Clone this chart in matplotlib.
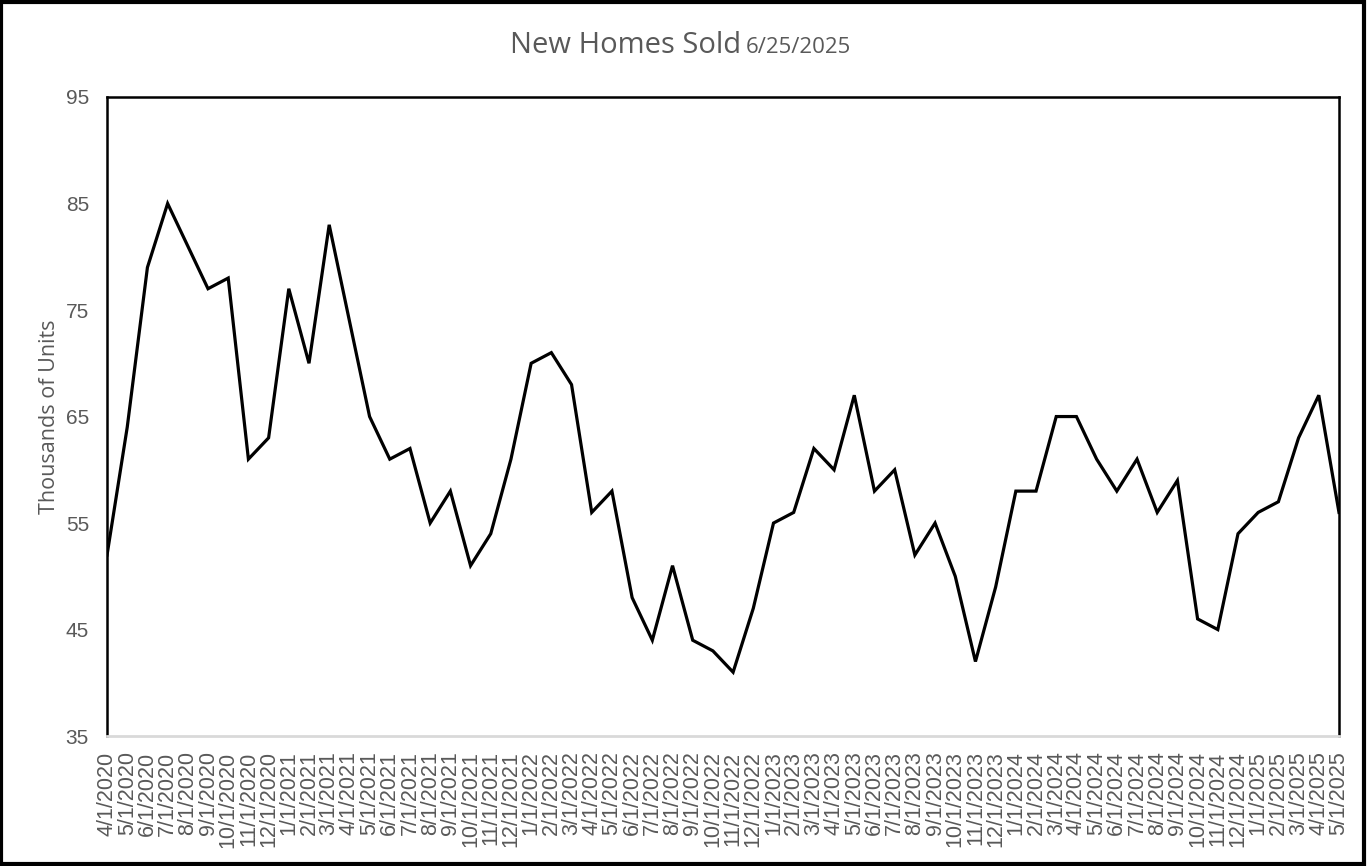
import pandas            as     pd
import matplotlib
matplotlib.use('Agg')
import matplotlib.pyplot as     plt
from matplotlib.patches  import Rectangle

# monthly new homes sold, thousands of units (not seasonally adjusted)
months = pd.date_range('2020-04-01', '2025-05-01', freq='MS')
labels = [f"{d.month}/{d.day}/{d.year}" for d in months]

sold = [52, 64, 79, 85, 81, 77, 78, 61, 63,                 # 2020
        77, 70, 83, 74, 65, 61, 62, 55, 58, 51, 54, 61,     # 2021
        70, 71, 68, 56, 58, 48, 44, 51, 44, 43, 41, 47,     # 2022
        55, 56, 62, 60, 67, 58, 60, 52, 55, 50, 42, 49,     # 2023
        58, 58, 65, 65, 61, 58, 61, 56, 59, 46, 45, 54,     # 2024
        56, 57, 63, 67, 56]                                 # 2025

y_ticks = [35, 45, 55, 65, 75, 85, 95]

grey = '#595959'
plt.rcParams['font.family'] = ['Liberation Sans', 'DejaVu Sans']

fig = plt.figure(figsize=(13.67, 8.66), dpi=100)
ax  = fig.add_axes([0.0783, 0.150, 0.9012, 0.738])

x = list(range(len(sold)))
ax.plot(x, sold, color='black', linewidth=2.3, solid_joinstyle='miter')

ax.set_xlim(0, len(sold) - 1)
ax.set_ylim(35, 95)
ax.set_yticks(y_ticks)
ax.set_xticks(x)
ax.set_xticklabels(labels, rotation=90)
ax.tick_params(axis='y', length=0, pad=13, labelsize=15, labelcolor=grey)
ax.tick_params(axis='x', length=0, pad=11, labelsize=15.5, labelcolor=grey)

for side in ['left', 'top', 'right']:
    ax.spines[side].set_color('black')
    ax.spines[side].set_linewidth(1.8)
ax.spines['bottom'].set_color('#d9d9d9')
ax.spines['bottom'].set_linewidth(2)

ax.set_ylabel('Thousands of Units', fontsize=15.5, color=grey,
              fontfamily='Open Sans', labelpad=4)

# title in two sizes
fig.text(741 / 1367, 1 - 53 / 866, 'New Homes Sold', ha='right', va='baseline',
         fontsize=21, color=grey, fontfamily='Open Sans')
fig.text(746 / 1367, 1 - 53 / 866, '6/25/2025', ha='left', va='baseline',
         fontsize=16, color=grey, fontfamily='Open Sans')

# black frame around the whole picture
fig.patches.append(Rectangle((0.001, 0.002), 0.997, 0.996, transform=fig.transFigure,
                             fill=False, edgecolor='black', linewidth=3))

fig.savefig('out.png', dpi=100)
